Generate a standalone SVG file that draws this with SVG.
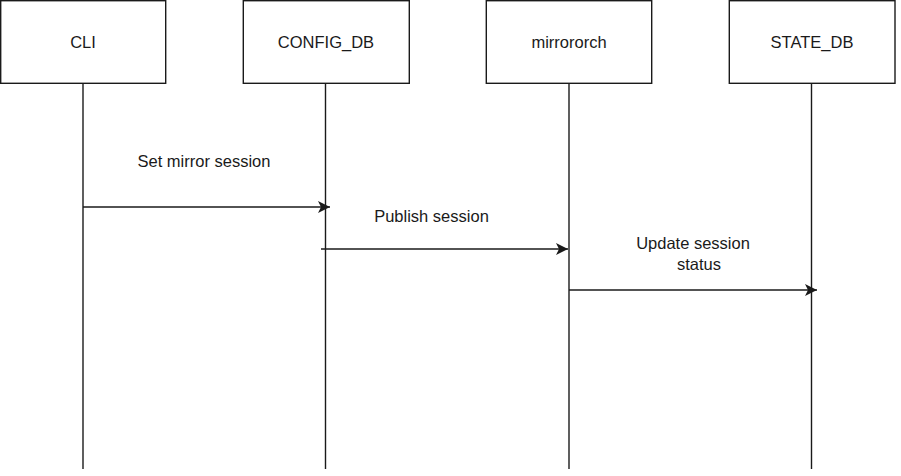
<svg xmlns="http://www.w3.org/2000/svg" width="901" height="476" viewBox="0 0 901 476">
<defs>
<style>
.box{fill:#ffffff;stroke:#1a1a1a;stroke-width:1.4}
.life{stroke:#1a1a1a;stroke-width:1.4;fill:none}
.msg{stroke:#1a1a1a;stroke-width:1.4;fill:none;marker-end:url(#arr)}
.t{font-family:"Liberation Sans",Arial,sans-serif;font-size:16.5px;fill:#1a1a1a;text-anchor:middle}
</style>
<marker id="arr" markerUnits="userSpaceOnUse" markerWidth="14" markerHeight="12" refX="12" refY="6" orient="auto">
<path d="M0,0 L12,6 L0,12 L3,6 Z" fill="#1a1a1a"/>
</marker>
</defs>
<rect width="901" height="476" fill="#ffffff"/>
<g id="connectors">
<line class="life" x1="83" y1="83" x2="83" y2="469"/>
<line class="life" x1="325.5" y1="83" x2="325.5" y2="469"/>
<line class="life" x1="569" y1="83" x2="569" y2="469"/>
<line class="life" x1="811.5" y1="83" x2="811.5" y2="469"/>
<line class="msg" x1="83" y1="207" x2="330" y2="207"/>
<line class="msg" x1="321" y1="249" x2="568" y2="249"/>
<line class="msg" x1="569" y1="290" x2="817" y2="290"/>
<text class="t" x="204" y="167">Set mirror session</text>
<text class="t" x="431.5" y="222">Publish session</text>
<text class="t" x="693" y="249">Update session</text>
<text class="t" x="699" y="270">status</text>
</g>
<g id="cli">
<rect class="box" x="0.7" y="0.7" width="165" height="82.6"/>
<text class="t" x="83" y="48">CLI</text>
</g>
<g id="config_db">
<rect class="box" x="243.3" y="0.7" width="166" height="82.6"/>
<text class="t" x="326" y="48">CONFIG_DB</text>
</g>
<g id="mirrororch">
<rect class="box" x="486.3" y="0.7" width="165.4" height="82.6"/>
<text class="t" x="569" y="48">mirrororch</text>
</g>
<g id="state_db">
<rect class="box" x="729.3" y="0.7" width="165.7" height="82.6"/>
<text class="t" x="812" y="48">STATE_DB</text>
</g>
</svg>
